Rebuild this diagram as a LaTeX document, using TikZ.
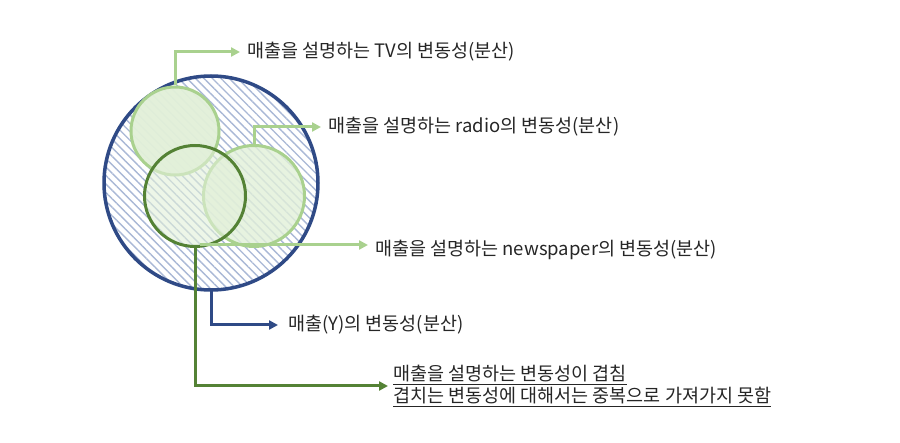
\documentclass[tikz,border=0pt]{standalone}
\usepackage{fontspec}
\setmainfont{Noto Sans CJK KR}
\usetikzlibrary{arrows.meta,patterns.meta}
\definecolor{navy}{HTML}{2F4A86}
\definecolor{lgline}{HTML}{A9D18E}
\definecolor{lgfill}{HTML}{E2F0D9}
\definecolor{dkgreen}{HTML}{548235}
\definecolor{hatch}{HTML}{A9B8D6}
\definecolor{txt}{HTML}{262626}
\begin{document}
\begin{tikzpicture}[x=1pt,y=-1pt,
  lbl/.style={anchor=west,inner sep=0pt,font=\fontsize{18.5}{22}\selectfont,text=txt},
  arr/.style={line width=3pt,-{Triangle[length=9pt,width=9pt]}},
  lgc/.style={circle,draw=lgline,line width=3pt,fill=lgfill,inner sep=0pt}]
\useasboundingbox (0,0) rectangle (900,443);
\fill[white] (0,0) rectangle (900,443);
% big circle
\node[circle,inner sep=0pt,minimum size=214pt,line width=3.5pt,draw=navy,
  pattern={Lines[angle=-45,distance=6pt,line width=1.4pt]},pattern color=hatch] (Y) at (211,183) {};
% small circles
\node[lgc,minimum size=88pt,fill opacity=0.95] (TV) at (175,131) {};
\node[lgc,minimum size=101pt,fill opacity=0.8] (RA) at (254,196) {};
\node[circle,inner sep=0pt,minimum size=101pt,draw=dkgreen,line width=3pt,fill=lgfill,fill opacity=0.6] (OV) at (195,196) {};
% labels
\node[lbl] (tvl) at (247,52) {매출을 설명하는 TV의 변동성(분산)};
\node[lbl] (ral) at (328,127) {매출을 설명하는 radio의 변동성(분산)};
\node[lbl] (npl) at (375,250) {매출을 설명하는 newspaper의 변동성(분산)};
\node[lbl] (yl) at (288,325) {매출(Y)의 변동성(분산)};
\node[lbl,align=left,font=\fontsize{18.5}{22}\selectfont] (ovl) at (393,386) {\underline{매출을 설명하는 변동성이 겹침}\\\underline{겹치는 변동성에 대해서는 중복으로 가져가지 못함}};
% connectors
\draw[arr,draw=lgline] (TV.north) |- ([xshift=-7pt]tvl.west);
\draw[arr,draw=lgline] (RA.north) |- ([xshift=-7pt]ral.west);
\coordinate (npS) at ([xshift=5pt,yshift=3pt]OV.south);
\draw[arr,draw=lgline] (npS) -- ([xshift=-7pt]npS -| npl.west);
\draw[arr,draw=navy] (Y.south) |- ([xshift=-10pt]yl.west);
\draw[arr,draw=dkgreen] (OV.south) |- ([xshift=-5pt]ovl.west);
\end{tikzpicture}
\end{document}
